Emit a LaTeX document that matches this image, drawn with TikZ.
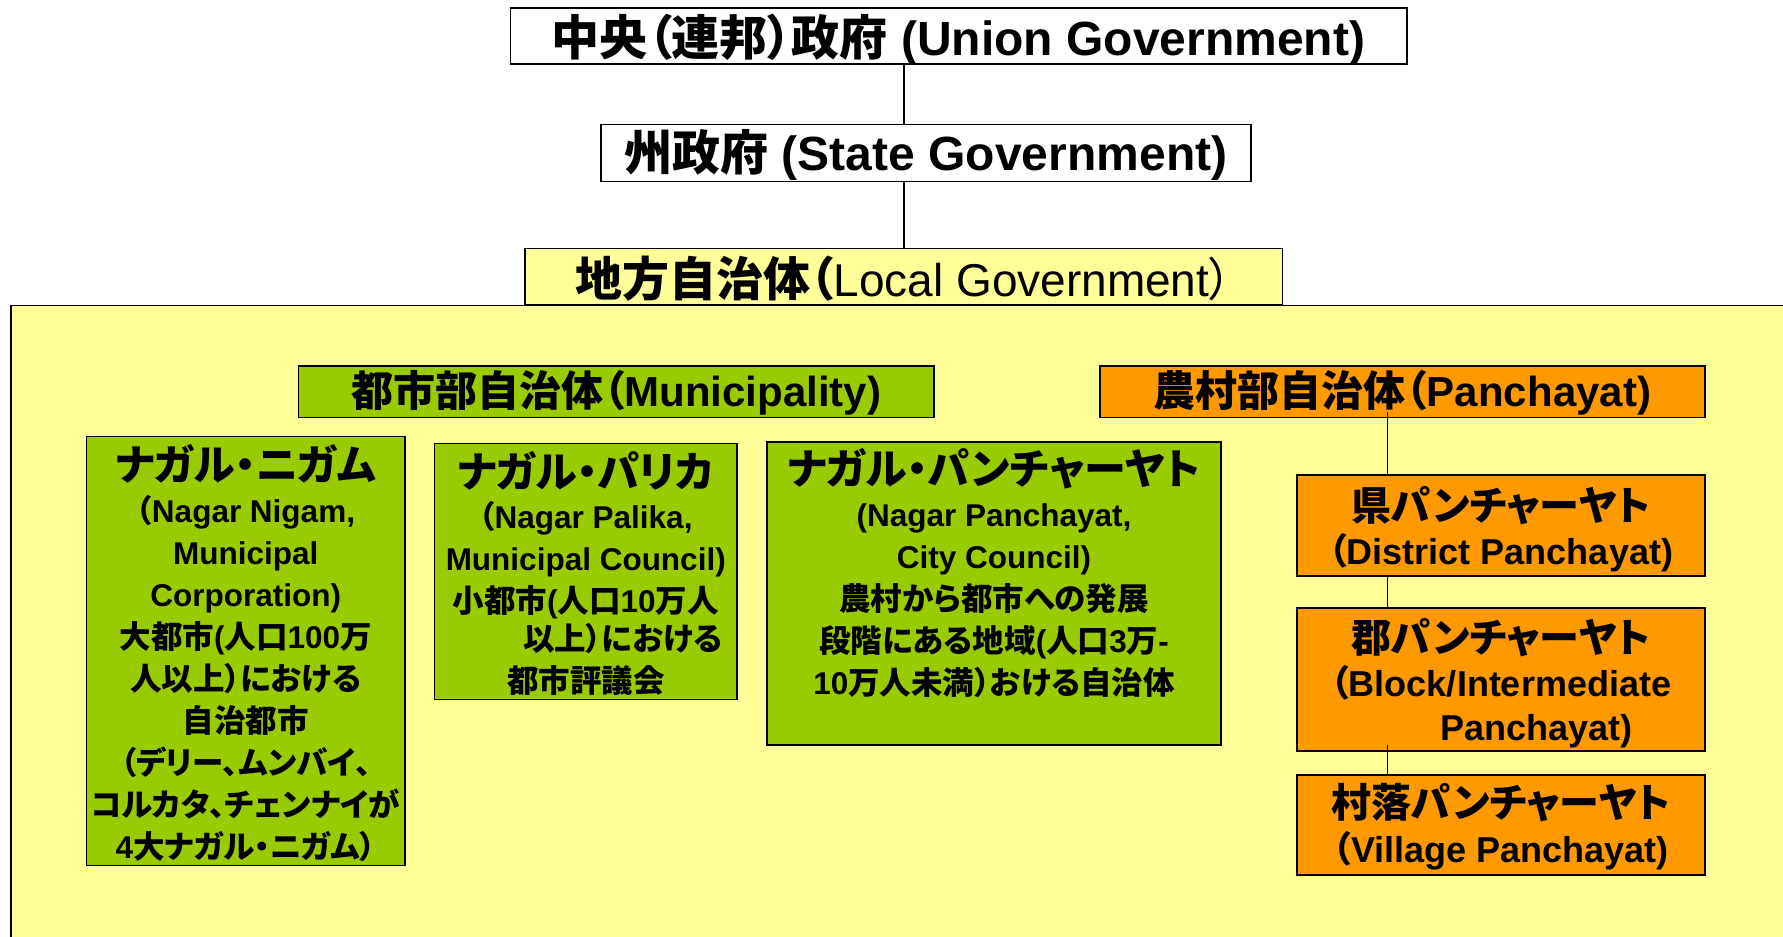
\documentclass[tikz,border=0pt]{standalone}
\usepackage{fontspec}
\setmainfont{Liberation Sans}
\newfontfamily\jp{Noto Sans CJK JP}[RawFeature=+palt]
\newcommand{\J}[1]{{\jp #1}}
\definecolor{bgyellow}{HTML}{FFFF99}
\definecolor{mgreen}{HTML}{99CC00}
\definecolor{morange}{HTML}{FF9900}
\newcommand{\gtitle}[1]{{\fontsize{42}{44}\selectfont\rule{0pt}{40pt}\J{#1}}}
\newcommand{\otitle}[1]{{\fontsize{40}{44}\selectfont\rule{0pt}{38pt}\J{#1}}}
\begin{document}
\begin{tikzpicture}[x=1pt,y=-1pt,
  box/.style={draw=black, line width=1.6pt, inner sep=0pt, outer sep=0pt},
  hdr/.style={box, font=\fontsize{48}{50}\selectfont\bfseries, text depth=0pt},
  gbox/.style={box, fill=mgreen},
  obox/.style={box, fill=morange},
  gtext/.style={inner sep=0pt, anchor=north, align=center, font=\fontsize{31.5}{42}\selectfont\bfseries},
  otext/.style={inner sep=0pt, anchor=north, align=center, font=\fontsize{36}{44}\selectfont\bfseries},
  conn/.style={draw=black, line width=1.3pt}]
\useasboundingbox (0,0) rectangle (1783,937);
\clip (0,0) rectangle (1783,937);
\fill[white] (0,0) rectangle (1783,937);
% large yellow area of local government
\draw[box, fill=bgyellow] (11.2,305.5) rectangle (1800,960);

% headers
\node[hdr, fill=white, minimum width=896.2pt, minimum height=55.8pt, text height=38.2pt] (union) at (958.6,35.9)
  {\J{中央（連邦）政府} (Union Government)};
\node[hdr, fill=white, minimum width=650pt, minimum height=57pt, text height=35pt] (state) at (926,153)
  {\J{州政府} (State Government)};
\node[hdr, fill=bgyellow, font=\fontsize{47}{50}\selectfont\bfseries, minimum width=757.1pt, minimum height=56.7pt, text height=39.7pt] (local) at (903.75,276.65)
  {\J{地方自治体（}{\fontsize{46}{50}\selectfont\mdseries Local Government\J{）}}};

\node[hdr, fill=mgreen, font=\fontsize{42}{46}\selectfont\bfseries, minimum width=635.5pt, minimum height=51.6pt, text height=29.8pt] (muni) at (616.25,391.8)
  {\J{都市部自治体（}Municipality)};
\node[hdr, fill=morange, font=\fontsize{42}{46}\selectfont\bfseries, minimum width=605pt, minimum height=51.6pt, text height=29.8pt] (panch) at (1402.5,391.8)
  {\J{農村部自治体（}Panchayat)};

% municipality boxes
\node[gbox, minimum width=318.3pt, minimum height=429pt] (nigam) at (245.65,651) {};
\node[gtext] (nigamtxt) at ([yshift=-3.5pt]nigam.north)
  {\gtitle{ナガル・ニガム}\\
   \J{（}Nagar Nigam,\\
   Municipal\\
   Corporation)\\
   \J{大都市}(\J{人口}100\J{万}\\
   \J{人以上）における}\\
   \J{自治都市}\\
   \J{（デリー、ムンバイ、}\\
   \J{コルカタ、チェンナイが}\\
   4\J{大ナガル・ニガム）}};

\node[gbox, minimum width=302.5pt, minimum height=255.8pt] (palika) at (585.75,571.4) {};
\node[gtext] (palikatxt) at ([yshift=-3.5pt]palika.north)
  {\gtitle{ナガル・パリカ}\\[-1pt]
   \J{（}Nagar Palika,\\
   Municipal Council)\\
   \J{小都市}(\J{人口}10\J{万人}\\[-4pt]
   \hspace*{74pt}\J{以上）における}\\
   \J{都市評議会}};

\node[gbox, minimum width=454pt, minimum height=303pt] (npanch) at (994,593.5) {};
\node[gtext] (npanchtxt) at ([yshift=-2pt]npanch.north)
  {\gtitle{ナガル・パンチャーヤト}\\
   (Nagar Panchayat,\\
   City Council)\\
   \J{農村から都市への発展}\\
   \J{段階にある地域}(\J{人口}3\J{万}-\\
   10\J{万人未満）おける自治体}};

% panchayat boxes
\node[obox, minimum width=408pt, minimum height=100.6pt] (district) at (1501,525.5) {};
\node[otext] (districttxt) at ([yshift=-7pt]district.north)
  {\otitle{県パンチャーヤト}\\
   \J{（}District Panchayat)};

\node[obox, minimum width=408pt, minimum height=142.6pt] (block) at (1501,679.5) {};
\node[otext] (blocktxt) at ([yshift=-6pt]block.north)
  {\otitle{郡パンチャーヤト}\\
   \J{（}Block/Intermediate\\
   \hspace*{71.6pt}Panchayat)};

\node[obox, minimum width=408pt, minimum height=100pt] (village) at (1501,825) {};
\node[otext] (villagetxt) at ([yshift=-4pt]village.north)
  {\otitle{村落パンチャーヤト}\\[1.5pt]
   \J{（}Village Panchayat)};

% connectors
\coordinate (c1) at (904,0);
\coordinate (c2) at (1387.5,0);
\draw[conn] (union.south -| c1) -- (state.north -| c1);
\draw[conn] (state.south -| c1) -- (local.north -| c1);
\draw[conn] (panch.south -| c2) ++(0,-6) -- (district.north -| c2);
\draw[conn] (district.south -| c2) -- (block.north -| c2);
\draw[conn] (block.south -| c2) ++(0,-6) -- (village.north -| c2);
\end{tikzpicture}
\end{document}
